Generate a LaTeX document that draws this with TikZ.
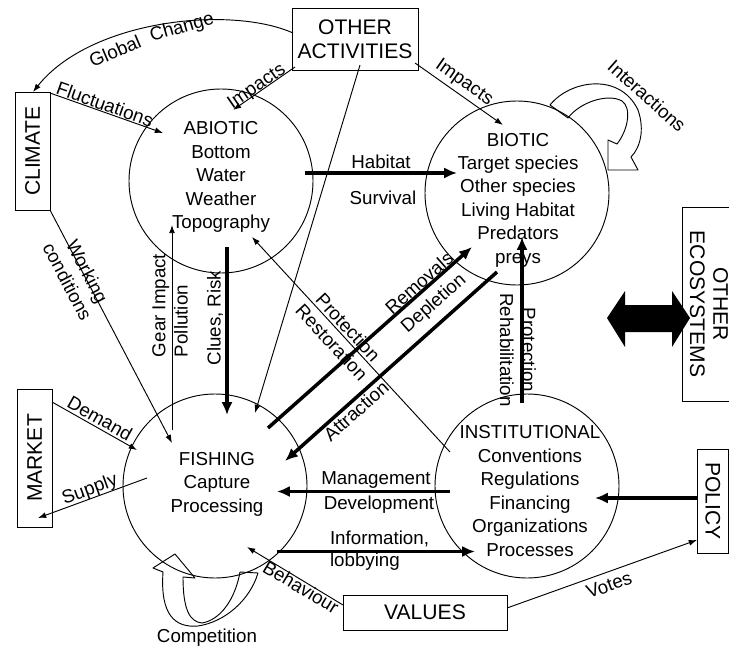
\documentclass[tikz,border=0pt]{standalone}
\usepackage{fontspec}
\setmainfont{Liberation Sans}
\usetikzlibrary{arrows.meta}

\begin{document}
\begin{tikzpicture}[x=0.03cm, y=-0.03cm,
  every node/.style={inner sep=0pt, outer sep=0pt},
  ring/.style={circle, draw, line width=0.8pt, minimum size=5.52cm},
  block/.style={draw, line width=0.8pt, font=\fontsize{18}{20.5}\selectfont, align=center},
  body/.style={font=\fontsize{16}{20}\selectfont, align=center},
  lbl/.style={font=\fontsize{16}{19}\selectfont, align=center},
  thinarrow/.style={line width=0.8pt, -{Latex[length=7pt,width=5pt]}},
  thickarrow/.style={line width=3pt, -{Latex[length=11pt,width=9.5pt]}},
  hollow/.style={line width=0.8pt, line join=round},
]
\fill[white] (0,0) rectangle (729,650);
\useasboundingbox (0,0) rectangle (729,650);

% the four sub-systems
\node[ring] (abiotic) at (221,181) {};
\node[body] (abioticText) at (221,177) {ABIOTIC\\Bottom\\Water\\Weather\\Topography};
\node[ring] (biotic) at (517,193) {};
\node[body] (bioticText) at (518,200) {BIOTIC\\Target species\\Other species\\Living Habitat\\Predators\\preys};
\node[ring] (fishing) at (215,486) {};
\node[body] (fishingText) at (217,484) {FISHING\\Capture\\Processing};
\node[ring] (institutional) at (527,486) {};
\node[body] (institutionalText) at (530,491) {INSTITUTIONAL\\Conventions\\Regulations\\Financing\\Organizations\\Processes};

% outside drivers
\node[block, minimum width=3.78cm, minimum height=1.86cm] (others) at (355,39) {OTHER\\ACTIVITIES};
\node[block, rotate=90, minimum width=3.54cm, minimum height=1.05cm] (climate) at (32.5,151) {CLIMATE};
\node[block, rotate=90, minimum width=4.14cm, minimum height=1.05cm] (market) at (34.5,458) {MARKET};
\node[block, rotate=-90, minimum width=5.82cm, minimum height=1.62cm, font=\fontsize{18}{20}\selectfont] (ecosystems) at (709,304) {OTHER\\ECOSYSTEMS};
\node[block, rotate=-90, minimum width=3.12cm, minimum height=0.945cm] (policy) at (712.75,501) {POLICY};
\node[block, minimum width=4.92cm, minimum height=1.05cm] (values) at (425,612.5) {VALUES};

% connector end points
\coordinate (gcS) at (293,33);   \coordinate (gcE) at (33,92);
\coordinate (flS) at (50,93);    \coordinate (flE) at (163,133);
\coordinate (iaS) at (295,67);   \coordinate (iaE) at (233,110);
\coordinate (ibS) at (415,63);   \coordinate (ibE) at (503,125);
\coordinate (ofS) at (360,65);   \coordinate (ofE) at (255,413);
\coordinate (haS) at (305,173);  \coordinate (haE) at (457,173);
\coordinate (crS) at (227,247);  \coordinate (crE) at (227,415);
\coordinate (gpS) at (172,430);  \coordinate (gpE) at (172,225);
\coordinate (wcS) at (50,210);   \coordinate (wcE) at (172,443);
\coordinate (deS) at (52,402);   \coordinate (deE) at (137,450);
\coordinate (suS) at (147,478);  \coordinate (suE) at (38,518);
\coordinate (reS) at (268,428);  \coordinate (reE) at (472,247);
\coordinate (dpS) at (497,272);  \coordinate (dpE) at (285,461);
\coordinate (prS) at (450,452);  \coordinate (prE) at (252,237);
\coordinate (phS) at (522,403);  \coordinate (phE) at (522,237);
\coordinate (mdS) at (450,491.5);\coordinate (mdE) at (277,491.5);
\coordinate (inS) at (277,551.5);\coordinate (inE) at (475,551.5);
\coordinate (poS) at (697,498);  \coordinate (poE) at (595,498);
\coordinate (voS) at (507,608);  \coordinate (voE) at (697,540);
\coordinate (beS) at (343,605);  \coordinate (beE) at (247,547);

% thin influences
\draw[thinarrow] (gcS) .. controls (230,5) and (90,20) .. (gcE);
\draw[thinarrow] (flS) -- (flE);
\draw[thinarrow] (iaS) -- (iaE);
\draw[thinarrow] (ibS) -- (ibE);
\draw[thinarrow] (ofS) -- (ofE);
\draw[thinarrow] (gpS) -- (gpE);
\draw[thinarrow] (wcS) -- (wcE);
\draw[thinarrow] (deS) -- (deE);
\draw[thinarrow] (suS) -- (suE);
\draw[thinarrow] (prS) -- (prE);
\draw[thinarrow] (voS) -- (voE);
\draw[thinarrow] (beS) -- (beE);

% strong flows
\draw[thickarrow] (haS) -- (haE);
\draw[thickarrow] (crS) -- (crE);
\draw[thickarrow] (reS) -- (reE);
\draw[thickarrow] (dpS) -- (dpE);
\draw[thickarrow] (phS) -- (phE);
\draw[thickarrow] (mdS) -- (mdE);
\draw[thickarrow] (inS) -- (inE);
\draw[thickarrow] (poS) -- (poE);

% exchange with other ecosystems
\fill[black] (607,318) -- (625,291) -- (625,305) -- (672,305) -- (672,291) -- (690,318)
  -- (672,347) -- (672,332) -- (625,332) -- (625,347) -- cycle;

% self loops
\draw[hollow] (550,105) .. controls (570,80) and (620,72) .. (638,110)
  .. controls (645,130) and (640,148) .. (631,157) -- (638,170) -- (608,170) -- (608,140)
  -- (617,144) .. controls (628,130) and (632,108) .. (622,101)
  .. controls (608,93) and (580,102) .. (568,118) -- cycle;
\draw[hollow] (163,572) .. controls (160,615) and (175,628) .. (198,626)
  .. controls (225,622) and (250,600) .. (258,573) -- (240,572)
  .. controls (235,600) and (220,620) .. (202,623)
  .. controls (190,622) and (183,610) .. (183,577) -- (195,578) -- (175,554) -- (153,568) -- cycle;

% labels
\node[lbl, rotate=23] (lGlobal) at (115,51) {Global};
\node[lbl, rotate=16] (lChange) at (182,28) {Change};
\node[lbl, rotate=-19.5] (lFluct) at (105,104) {Fluctuations};
\node[lbl, rotate=34.5] (lImpA) at (257,87) {Impacts};
\node[lbl, rotate=-35] (lImpB) at (464,83) {Impacts};
\node[lbl] (lHabitat) at (381,162) {Habitat};
\node[lbl] (lSurvival) at (383,198) {Survival};
\node[lbl, rotate=90] (lClues) at (215,318) {Clues, Risk};
\node[lbl, rotate=90, anchor=west, align=left] (lGear) at (170,357) {Gear Impact\\Pollution};
\node[lbl, rotate=-62.4] (lWork) at (77.5,276.5) {Working\\conditions};
\node[lbl, rotate=-29.5] (lDemand) at (100,418) {Demand};
\node[lbl, rotate=20] (lSupply) at (90,490) {Supply};
\node[lbl, rotate=41.6] (lRemovals) at (419,283) {Removals};
\node[lbl, rotate=41.5] (lDepletion) at (434,304) {Depletion};
\node[lbl, rotate=41.5] (lAttraction) at (356,411) {Attraction};
\node[lbl, rotate=-47.4] (lProtA) at (340,335) {Protection\\Restoration};
\node[lbl, rotate=-90] (lProtB) at (518,350) {Protection\\Rehabilitation};
\node[lbl] (lManage) at (376,480) {Management};
\node[lbl] (lDevelop) at (379,505) {Development};
\node[lbl, anchor=west, align=left] (lInfo) at (330,551) {Information,\\lobbying};
\node[lbl, rotate=19.7] (lVotes) at (609,585) {Votes};
\node[lbl, rotate=-31] (lBehav) at (301,587) {Behaviour};
\node[lbl, rotate=-41.7] (lInter) at (647,96) {Interactions};
\node[lbl] (lComp) at (207,638) {Competition};
\end{tikzpicture}
\end{document}
